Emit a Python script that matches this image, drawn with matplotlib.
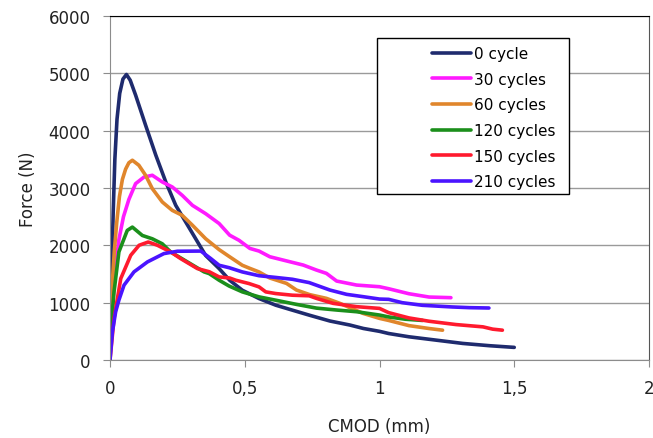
import matplotlib
matplotlib.use("Agg")
from matplotlib import pyplot as plt
from matplotlib.patches import Rectangle

# CMOD (mm) / force (N)
x_0 = [0, 0.006, 0.012, 0.018, 0.026, 0.036, 0.048, 0.061, 0.075, 0.095, 0.132,
       0.17, 0.207, 0.244, 0.281, 0.318, 0.355, 0.405, 0.444, 0.491, 0.553,
       0.615, 0.677, 0.741, 0.816, 0.89, 0.94, 1.0, 1.034, 1.109, 1.209,
       1.309, 1.409, 1.5]
f_0 = [300, 1500, 2600, 3500, 4200, 4650, 4900, 4980, 4880, 4620, 4096,
       3572, 3105, 2697, 2406, 2114, 1823, 1594, 1391, 1217, 1072,
       956, 869, 780, 680, 610, 550, 500, 462, 405, 347,
       289, 249, 220]

x_30 = [0, 0.01, 0.02, 0.033, 0.05, 0.07, 0.095, 0.126, 0.157, 0.194, 0.231,
        0.268, 0.306, 0.355, 0.405, 0.444, 0.479, 0.519, 0.553, 0.593, 0.667,
        0.717, 0.766, 0.803, 0.841, 0.915, 1.0, 1.034, 1.109, 1.184, 1.265]
f_30 = [200, 1000, 1600, 2100, 2500, 2800, 3076, 3190, 3222, 3105, 3018,
        2872, 2697, 2552, 2380, 2177, 2087, 1946, 1900, 1801, 1714,
        1656, 1569, 1511, 1377, 1307, 1278, 1243, 1156, 1098, 1087]

x_60 = [0, 0.008, 0.016, 0.025, 0.035, 0.046, 0.058, 0.07, 0.083, 0.107, 0.132,
        0.157, 0.194, 0.231, 0.268, 0.306, 0.355, 0.405, 0.444, 0.491, 0.519,
        0.553, 0.593, 0.655, 0.692, 0.741, 0.803, 0.853, 0.939, 1.0, 1.034,
        1.109, 1.184, 1.234]
f_60 = [400, 1300, 1900, 2400, 2850, 3150, 3330, 3440, 3484, 3397, 3222,
        2989, 2756, 2610, 2523, 2350, 2115, 1925, 1800, 1652, 1598,
        1536, 1430, 1336, 1220, 1140, 1075, 988, 813, 726, 690,
        600, 549, 520]

x_120 = [0, 0.008, 0.015, 0.033, 0.052, 0.064, 0.083, 0.12, 0.157, 0.194,
         0.225, 0.287, 0.349, 0.368, 0.405, 0.442, 0.491, 0.553, 0.615, 0.692,
         0.766, 0.84, 0.915, 1.0, 1.034, 1.096, 1.16]
f_120 = [300, 800, 1189, 1885, 2115, 2260, 2318, 2172, 2114, 2027,
         1885, 1711, 1537, 1507, 1391, 1290, 1188, 1101, 1043, 970,
         905, 872, 842, 784, 751, 711, 690]

x_150 = [0, 0.015, 0.04, 0.077, 0.108, 0.142, 0.176, 0.225, 0.262, 0.324,
         0.368, 0.405, 0.444, 0.467, 0.516, 0.553, 0.578, 0.615, 0.677, 0.739,
         0.766, 0.828, 0.915, 1.0, 1.034, 1.109, 1.184, 1.284, 1.384, 1.42, 1.456]
f_150 = [0, 725, 1421, 1827, 2001, 2058, 2001, 1885, 1769, 1595,
         1540, 1449, 1430, 1391, 1333, 1275, 1188, 1159, 1130, 1120,
         1075, 988, 930, 900, 826, 734, 676, 618, 578, 538, 520]

x_210 = [0, 0.009, 0.021, 0.033, 0.052, 0.089, 0.139, 0.2, 0.25, 0.337, 0.374,
         0.405, 0.442, 0.491, 0.553, 0.615, 0.677, 0.739, 0.816, 0.878, 0.94,
         1.0, 1.034, 1.084, 1.159, 1.27, 1.334, 1.406]
f_210 = [0, 493, 841, 1044, 1305, 1537, 1711, 1856, 1897, 1900, 1769,
         1652, 1610, 1536, 1470, 1440, 1408, 1350, 1220, 1145, 1104,
         1063, 1058, 1000, 954, 925, 913, 907]

series = [
    (x_0, f_0, '0 cycle', '#1f2b6e'),
    (x_30, f_30, '30 cycles', '#ff1aff'),
    (x_60, f_60, '60 cycles', '#e0862c'),
    (x_120, f_120, '120 cycles', '#1b8f1b'),
    (x_150, f_150, '150 cycles', '#ff1a2e'),
    (x_210, f_210, '210 cycles', '#4a14ff'),
]

x_ticks = [0, 0.5, 1, 1.5, 2]
x_labels = ['0', '0,5', '1', '1,5', '2']
y_ticks = [0, 1000, 2000, 3000, 4000, 5000, 6000]

W, H = 653, 439
fig = plt.figure(figsize=(W / 100, H / 100), dpi=100)
ax = fig.add_axes([110 / W, 1 - 361 / H, 539 / W, 344 / H])

handles = []
for x, f, name, col in series:
    h, = ax.plot(x, f, color=col, lw=2.6, label=name, solid_capstyle='round')
    handles.append(h)

ax.set_xlim(0, 2)
ax.set_ylim(0, 6000)
ax.set_xticks(x_ticks)
ax.set_xticklabels(x_labels)
ax.set_yticks(y_ticks)
ax.yaxis.grid(True, color='#9a9a9a', lw=1)
ax.set_axisbelow(True)

for s in ['left', 'bottom']:
    ax.spines[s].set_color('#8c8c8c')
ax.spines['top'].set_color('black')
ax.spines['right'].set_color('#555555')
ax.tick_params(direction='out', length=5, color='#8c8c8c',
               labelsize=12, labelcolor='#222222', pad=9)

ax.set_xlabel('CMOD (mm)', fontsize=12, color='#222222', labelpad=14)
ax.set_ylabel('Force (N)', fontsize=12, color='#222222', labelpad=8)

# legend box drawn separately, Excel puts a wide gap before the samples
fig.add_artist(Rectangle((377 / W, 1 - 195 / H), 192 / W, 156 / H,
                         transform=fig.transFigure, facecolor='white',
                         edgecolor='black', lw=1, zorder=4))
fig.legend(handles=handles, loc='upper left',
           bbox_to_anchor=(432 / W, 1 - 47 / H), bbox_transform=fig.transFigure,
           frameon=False, fontsize=11, handlelength=2.55, handletextpad=0.2,
           labelspacing=0.7, borderpad=0, borderaxespad=0)

fig.savefig('out.png', dpi=100)
